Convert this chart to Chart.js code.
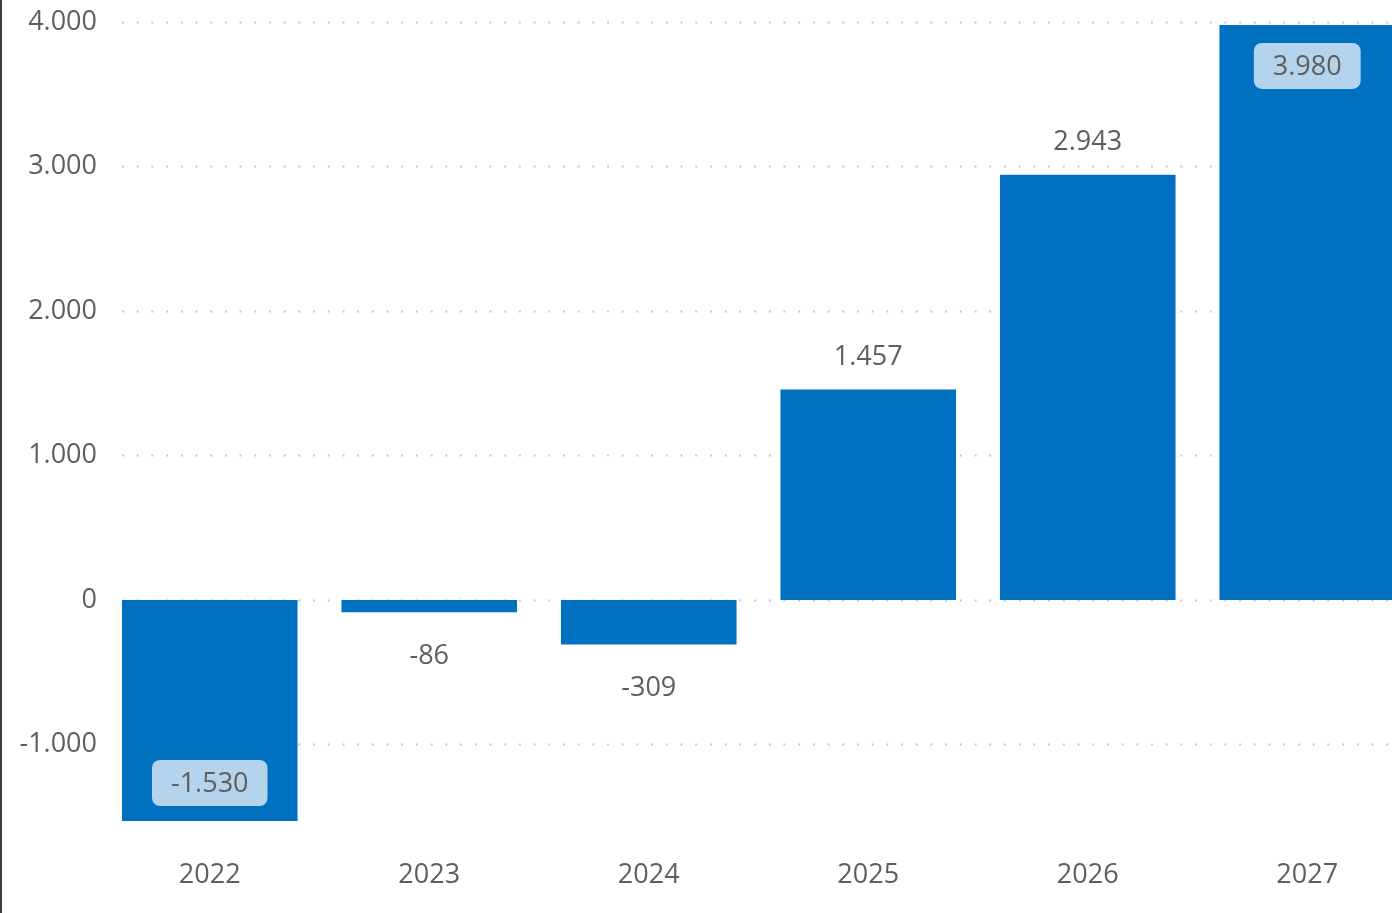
<!DOCTYPE html>
<html>
<head>
<meta charset="utf-8">
<script src="https://cdn.jsdelivr.net/npm/chart.js@4.4.1/dist/chart.umd.min.js"></script>
<style>
  html, body { margin: 0; padding: 0; background: #fff; }
  #wrap { position: relative; width: 1392px; height: 913px; overflow: hidden; }
  #edge { position: absolute; left: 0; top: 0; width: 2px; height: 913px; background: #3a3a3a; z-index: 2; }
  canvas { position: absolute; left: 0; top: 0; }
</style>
</head>
<body>
<div id="wrap">
  <div id="edge"></div>
  <canvas id="chart" width="1417" height="913"></canvas>
</div>
<script>
const years = ["2022", "2023", "2024", "2025", "2026", "2027"];
const values = [-1530, -86, -309, 1457, 2943, 3980];
const yTicks = [-1000, 0, 1000, 2000, 3000, 4000];

const FONT = "'Open Sans', 'Noto Sans', sans-serif";
const TEXT = "#605E5C";

function fmt(v) {
  const s = Math.abs(Math.round(v)).toString().replace(/\B(?=(\d{3})+(?!\d))/g, ".");
  return (v < 0 ? "-" : "") + s;
}

// dotted gridlines starting at the first bar
const dottedGrid = {
  id: "dottedGrid",
  beforeDatasetsDraw(chart) {
    const ctx = chart.ctx;
    const area = chart.chartArea;
    const y = chart.scales.y;
    const first = chart.getDatasetMeta(0).data[0];
    const x0 = first.x - first.width / 2;
    ctx.save();
    ctx.strokeStyle = "#c8c8c8";
    ctx.lineWidth = 2;
    ctx.setLineDash([2, 12.7]);
    yTicks.forEach(t => {
      const py = Math.round(y.getPixelForValue(t)) + 0.5;
      ctx.beginPath();
      ctx.moveTo(x0, py);
      ctx.lineTo(area.right, py);
      ctx.stroke();
    });
    ctx.restore();
  }
};

const barLabels = {
  id: "barLabels",
  afterDatasetsDraw(chart) {
    const ctx = chart.ctx;
    const area = chart.chartArea;
    const meta = chart.getDatasetMeta(0);
    ctx.save();
    ctx.font = "27px " + FONT;
    ctx.textAlign = "center";
    ctx.textBaseline = "middle";
    meta.data.forEach((bar, i) => {
      const v = values[i];
      const txt = fmt(v);
      let ly = v >= 0 ? bar.y - 33 : bar.y + 43;
      const outside = ly - 16 > area.top && ly + 16 < area.bottom;
      if (outside) {
        ctx.fillStyle = TEXT;
        ctx.fillText(txt, bar.x, ly + 1);
      } else {
        ly = v >= 0 ? bar.y + 41 : bar.y - 38;
        const w = ctx.measureText(txt).width + 38;
        const h = 46;
        ctx.fillStyle = "#B4D3EC";
        ctx.beginPath();
        ctx.roundRect(bar.x - w / 2, ly - h / 2, w, h, 8);
        ctx.fill();
        ctx.fillStyle = TEXT;
        ctx.fillText(txt, bar.x, ly + 1);
      }
    });
    ctx.restore();
  }
};

new Chart(document.getElementById("chart"), {
  type: "bar",
  data: {
    labels: years,
    datasets: [{
      data: values,
      backgroundColor: "#0070C0",
      borderWidth: 0,
      barPercentage: 0.8,
      categoryPercentage: 1.0
    }]
  },
  options: {
    responsive: false,
    animation: false,
    layout: { padding: { top: 22, right: 0, bottom: 0, left: 0 } },
    plugins: { legend: { display: false }, tooltip: { enabled: false } },
    scales: {
      x: {
        grid: { display: false, drawTicks: false },
        border: { display: false },
        ticks: { color: TEXT, font: { size: 27, family: FONT }, padding: 38 },
        afterFit(scale) { scale.height = 92; }
      },
      y: {
        min: -1530,
        max: 4000,
        grid: { display: false, drawTicks: false },
        border: { display: false },
        afterBuildTicks(scale) { scale.ticks = yTicks.map(v => ({ value: v })); },
        ticks: {
          color: TEXT,
          font: { size: 27, family: FONT },
          padding: 3,
          callback: v => fmt(v)
        },
        afterFit(scale) { scale.width = 100; }
      }
    }
  },
  plugins: [dottedGrid, barLabels]
});
</script>
</body>
</html>
